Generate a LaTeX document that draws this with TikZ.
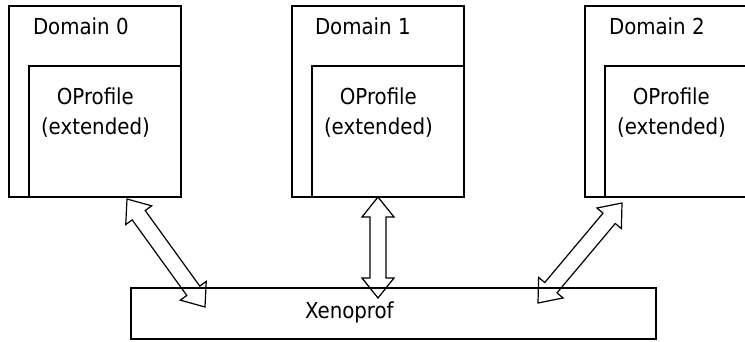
\documentclass[tikz,border=0pt]{standalone}
\usepackage{fontspec}
\setmainfont{DejaVu Sans Condensed}
\usepackage{tikz}
\usetikzlibrary{calc,positioning}

\begin{document}
\begin{tikzpicture}[x=1pt,y=1pt,line width=1.2pt]
	\tikzstyle{box} = [rectangle, draw = black, inner sep = 0pt]
	\tikzstyle{txt} = [font = \fontsize{22}{30}\selectfont, inner sep = 0pt, align = center]
	\tikzstyle{dblarrow} = [to path = {
		-- ($(\tikztostart)!20pt!(\tikztotarget)!16pt!90:(\tikztotarget)$)
		-- ($(\tikztostart)!20pt!(\tikztotarget)!8pt!90:(\tikztotarget)$)
		-- ($(\tikztotarget)!20pt!(\tikztostart)!8pt!-90:(\tikztostart)$)
		-- ($(\tikztotarget)!20pt!(\tikztostart)!16pt!-90:(\tikztostart)$)
		-- (\tikztotarget)
		-- ($(\tikztotarget)!20pt!(\tikztostart)!16pt!90:(\tikztostart)$)
		-- ($(\tikztotarget)!20pt!(\tikztostart)!8pt!90:(\tikztostart)$)
		-- ($(\tikztostart)!20pt!(\tikztotarget)!8pt!-90:(\tikztotarget)$)
		-- ($(\tikztostart)!20pt!(\tikztotarget)!16pt!-90:(\tikztotarget)$)
		-- cycle}]
	\useasboundingbox (0,0) rectangle (745,341);
	\clip (0,0) rectangle (745,341);

\node[box, minimum width = 172pt, minimum height = 191pt] (d0) at (95, 239.5) {};
\node[box, minimum width = 172pt, minimum height = 191pt] (d1) at (378, 239.5) {};
\node[box, minimum width = 172pt, minimum height = 191pt] (d2) at (671, 239.5) {};
\node[box, minimum width = 152pt, minimum height = 131pt] (o0) at (105, 209.5) {};
\node[box, minimum width = 152pt, minimum height = 131pt] (o1) at (388, 209.5) {};
\node[box, minimum width = 152pt, minimum height = 131pt] (o2) at (681, 209.5) {};
\node[box, minimum width = 525pt, minimum height = 51pt] (xen) at (393.5, 27.5) {};

\node[txt, anchor = base west] at ([shift = {(24, -29)}]d0.north west) {Domain 0};
\node[txt, anchor = base west] at ([shift = {(23, -29)}]d1.north west) {Domain 1};
\node[txt, anchor = base west] at ([shift = {(24, -29)}]d2.north west) {Domain 2};
\node[txt, anchor = north] at ([shift = {(67, -22)}]o0.north west) {OProfile\\(extended)};
\node[txt, anchor = north] at ([shift = {(67, -22)}]o1.north west) {OProfile\\(extended)};
\node[txt, anchor = north] at ([shift = {(67, -22)}]o2.north west) {OProfile\\(extended)};
\node[txt, anchor = base west] at ([shift = {(174, 21)}]xen.south west) {Xenoprof};

\coordinate (a0) at (127, 142);
\coordinate (b0) at (205, 34);
\coordinate (a1) at (378, 144);
\coordinate (b1) at (378, 43);
\coordinate (a2) at (622, 138);
\coordinate (b2) at (538, 38);

	\path[draw, line join = miter] (a0) to[dblarrow] (b0);
	\path[draw, line join = miter] (a1) to[dblarrow] (b1);
	\path[draw, line join = miter] (a2) to[dblarrow] (b2);
	\end{tikzpicture}
\end{document}
